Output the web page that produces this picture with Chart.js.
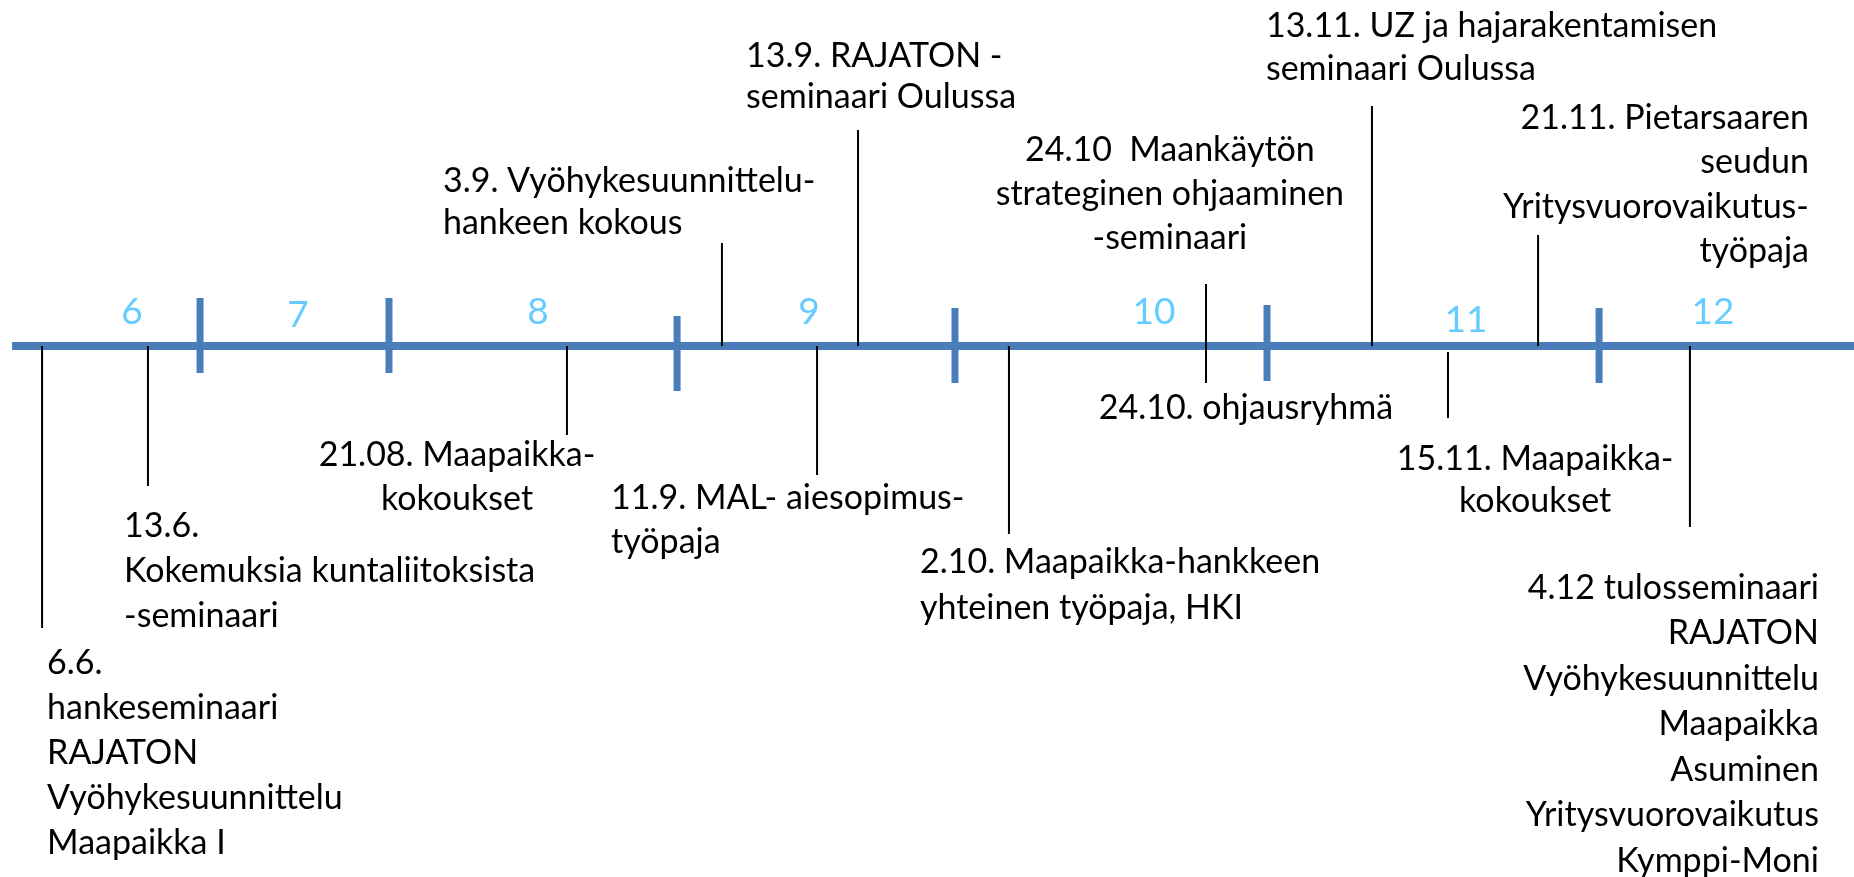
<!DOCTYPE html>
<html>
<head>
<meta charset="utf-8">
<script src="https://cdn.jsdelivr.net/npm/chart.js@4"></script>
<style>
  html, body { margin: 0; padding: 0; background: #fff; }
  canvas { display: block; }
</style>
</head>
<body>
<canvas id="timeline" width="1854" height="877"></canvas>
<script>
'use strict';
// x = position along the drawn timeline (0-100), y = distance from the axis (up is +)

var months = ['6', '7', '8', '9', '10', '11', '12'];
var monthPos = [7.12, 16.07, 29.02, 43.64, 62.24, 79.07, 92.39];
var monthLift = [34, 31, 34, 34, 34, 26, 34];

var dividerPos = [10.79, 20.98, 36.52, 51.51, 68.34, 86.25];
var dividerTop = [48, 48, 30, 38, 41, 38];
var dividerBottom = [-27, -27, -45, -37, -35, -37];

// event marker lines
var eventPos  = [2.27, 7.98, 30.58, 38.94, 44.07, 46.28, 54.42, 65.05, 74.0, 78.1, 82.96, 91.15];
var eventFrom = [0, 0, 0, 0, 0, 0, 0, -37, 0, -6, 0, 0];
var eventTo   = [-282, -140, -89, 103, -129, 216, -188, 62, 240, -72, 111, -181];

// event captions
var eventText = [
  ['6.6.', 'hankeseminaari', 'RAJATON', 'Vyöhykesuunnittelu', 'Maapaikka I'],
  ['13.6.', 'Kokemuksia kuntaliitoksista', '-seminaari'],
  ['21.08. Maapaikka-', 'kokoukset'],
  ['3.9. Vyöhykesuunnittelu-', 'hankeen kokous'],
  ['11.9. MAL- aiesopimus-', 'työpaja'],
  ['13.9. RAJATON -', 'seminaari Oulussa'],
  ['2.10. Maapaikka-hankkeen', 'yhteinen työpaja, HKI'],
  ['24.10  Maankäytön', 'strateginen ohjaaminen', '-seminaari'],
  ['24.10. ohjausryhmä'],
  ['13.11. UZ ja hajarakentamisen', 'seminaari Oulussa'],
  ['15.11. Maapaikka-', 'kokoukset'],
  ['21.11. Pietarsaaren', 'seudun', 'Yritysvuorovaikutus-', 'työpaja'],
  ['4.12 tulosseminaari', 'RAJATON', 'Vyöhykesuunnittelu', 'Maapaikka', 'Asuminen', 'Yritysvuorovaikutus', 'Kymppi-Moni']
];
var textX     = [2.54, 6.69, 24.65, 23.89, 32.96, 40.24, 49.62, 63.1, 67.2, 68.28, 82.8, 97.57, 98.11];
var textY     = [-317, -180, -109, 165, -152, 290, -216, 196, -62, 320, -113, 228, -242];
var textAlign = ['left', 'left', 'center', 'left', 'left', 'left', 'left', 'center', 'center', 'left', 'center', 'right', 'right'];
var textGap   = [45, 45, 44, 42, 44, 41, 46, 44, 44, 43, 42, 44.5, 45.5];

var AXIS_BLUE = '#4A7EBB';

function segments(pos, from, to) {
  var pts = [];
  pos.forEach(function(p, i) {
    pts.push({x: p, y: from[i]}, {x: p, y: to[i]}, {x: p, y: null});
  });
  return pts;
}

var labelsPlugin = {
  id: 'timelineLabels',
  afterDatasetsDraw: function(chart) {
    var ctx = chart.ctx, x = chart.scales.x, y = chart.scales.y;
    ctx.save();
    ctx.textBaseline = 'middle';
    ctx.font = '37px Lato';
    ctx.fillStyle = '#66CCFF';
    ctx.textAlign = 'center';
    months.forEach(function(m, i) {
      ctx.fillText(m, x.getPixelForValue(monthPos[i]), y.getPixelForValue(monthLift[i]));
    });
    ctx.font = '34px Lato';
    ctx.fillStyle = '#000';
    eventText.forEach(function(lines, i) {
      ctx.textAlign = textAlign[i];
      lines.forEach(function(line, k) {
        ctx.fillText(line, x.getPixelForValue(textX[i]), y.getPixelForValue(textY[i] - k * textGap[i]));
      });
    });
    ctx.restore();
  }
};

var config = {
  type: 'line',
  data: {
    datasets: [
      {
        label: 'events',
        data: segments(eventPos, eventFrom, eventTo),
        borderColor: '#000',
        borderWidth: 2,
        pointRadius: 0,
        spanGaps: false
      },
      {
        label: 'months',
        data: segments(dividerPos, dividerBottom, dividerTop),
        borderColor: AXIS_BLUE,
        borderWidth: 7,
        pointRadius: 0,
        spanGaps: false
      },
      {
        label: 'axis',
        data: [{x: 0.65, y: 0}, {x: 100, y: 0}],
        borderColor: AXIS_BLUE,
        borderWidth: 8,
        pointRadius: 0
      }
    ]
  },
  options: {
    responsive: false,
    animation: false,
    layout: { padding: 0 },
    plugins: {
      legend: { display: false },
      tooltip: { enabled: false }
    },
    scales: {
      x: { type: 'linear', min: 0, max: 100, display: false },
      y: { type: 'linear', min: -531, max: 346, display: false }
    }
  },
  plugins: [labelsPlugin]
};

window.chart = new Chart(document.getElementById('timeline'), config);
</script>
</body>
</html>
